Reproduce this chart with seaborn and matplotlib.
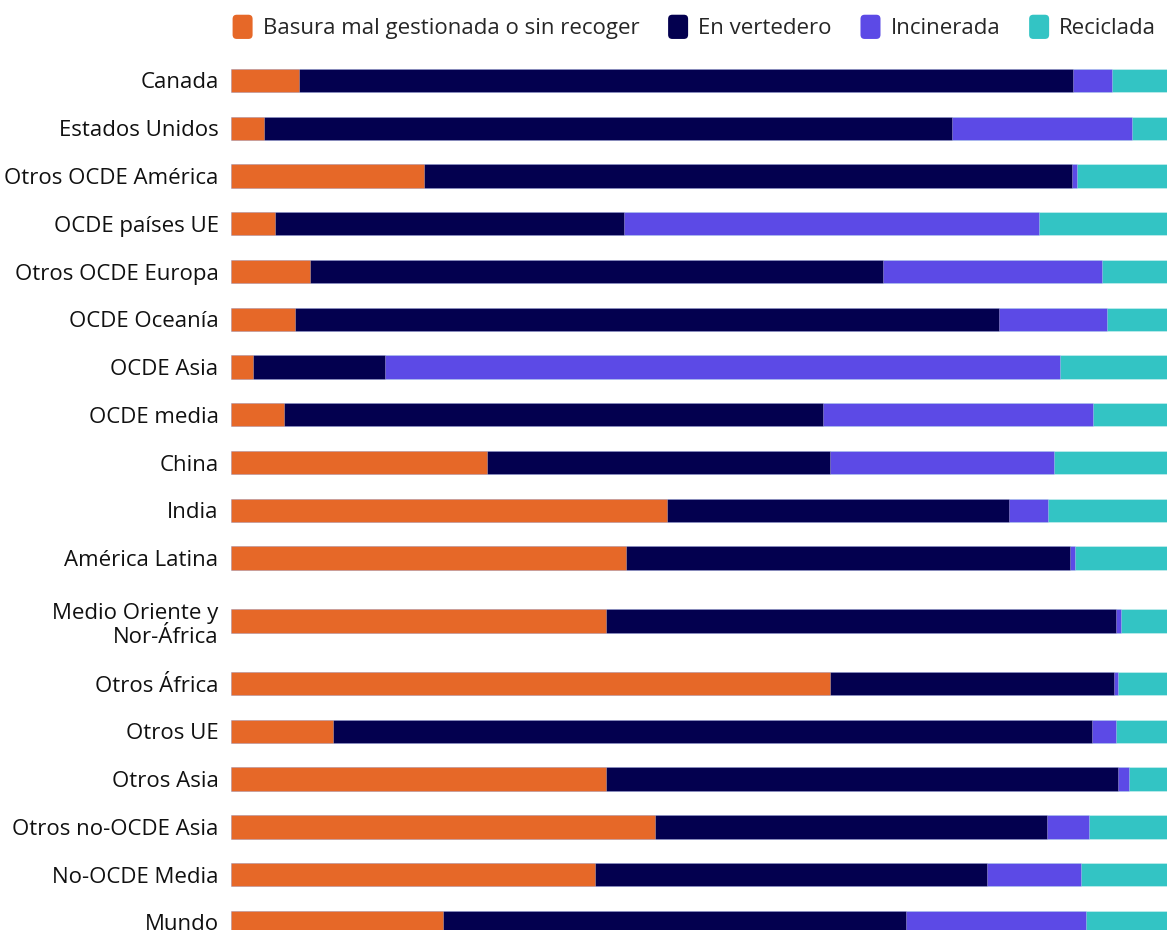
import matplotlib
matplotlib.use("Agg")
import numpy as np
import pandas as pd
import matplotlib.pyplot as plt
import seaborn as sns
from matplotlib.patches import Patch, FancyBboxPatch
from matplotlib.legend_handler import HandlerPatch

regiones = ["Canada", "Estados Unidos", "Otros OCDE América", "OCDE países UE",
            "Otros OCDE Europa", "OCDE Oceanía", "OCDE Asia", "OCDE media", "China",
            "India", "América Latina", "Medio Oriente y\nNor-África", "Otros África",
            "Otros UE", "Otros Asia", "Otros no-OCDE Asia", "No-OCDE Media", "Mundo"]

mal_gestionada = [7.3, 3.5, 20.6, 4.7, 8.4, 6.8, 2.3, 5.7, 27.3, 46.6, 42.2, 40.1, 64.0,
                  10.9, 40.1, 45.3, 38.8, 22.7]
vertedero = [82.7, 73.5, 69.2, 37.3, 61.3, 75.3, 14.2, 57.6, 36.6, 36.5, 47.4, 54.5, 30.3,
             81.1, 54.7, 41.9, 41.9, 49.5]
incinerada = [4.2, 19.2, 0.5, 44.3, 23.4, 11.5, 72.1, 28.8, 23.9, 4.2, 0.6, 0.5, 0.5,
              2.6, 1.1, 4.5, 10.0, 19.2]
reciclada = [5.9, 3.7, 9.6, 13.7, 6.9, 6.4, 11.4, 7.9, 12.1, 12.7, 9.8, 4.9, 5.2,
             5.4, 4.1, 8.3, 9.2, 8.7]

series = ["Basura mal gestionada o sin recoger", "En vertedero", "Incinerada", "Reciclada"]
colores = ["#E66828", "#03004F", "#5C4AE6", "#33C4C4"]

df = pd.DataFrame({
    series[0]: mal_gestionada,
    series[1]: vertedero,
    series[2]: incinerada,
    series[3]: reciclada,
}, index=regiones)
df = df.div(df.sum(axis=1), axis=0) * 100
acum = df.cumsum(axis=1)

# filas; la etiqueta de dos líneas deja más aire arriba y abajo
idx = np.arange(len(regiones))
pos = idx + np.where(idx == 11, 0.32, np.where(idx > 11, 0.63, 0.0))

sns.set_theme(style="white")
plt.rcParams['font.family'] = ['Open Sans', 'DejaVu Sans']


class RoundHandle(HandlerPatch):
    def create_artists(self, legend, orig_handle, xdescent, ydescent, width, height,
                       fontsize, trans):
        p = FancyBboxPatch((-xdescent, -ydescent), width, height,
                           boxstyle="round,pad=0,rounding_size=3",
                           facecolor=orig_handle.get_facecolor(), edgecolor="none",
                           transform=trans)
        return [p]


fig = plt.figure(figsize=(11.67, 9.3), dpi=100)
ax = fig.add_axes([231 / 1167, 0, 936 / 1167, 874 / 930])

for col, color in reversed(list(zip(series, colores))):
    sns.barplot(x=acum[col].values, y=pos, orient="y", native_scale=True,
                color=color, saturation=1, width=0.49, edgecolor=(1, 1, 1, 0.35),
                linewidth=0.6, ax=ax)

ax.set_xlim(0, 100)
ax.set_ylim(17.79, -0.513)
ax.set_yticks(pos, labels=regiones)
ax.set_xticks([])
ax.set_xlabel("")
ax.set_ylabel("")
ax.tick_params(axis="y", length=0, pad=9, labelsize=16, labelcolor="#111111")
for lbl in ax.get_yticklabels():
    lbl.set_linespacing(1.2)
sns.despine(ax=ax, left=True, bottom=True)

handles = [Patch(facecolor=c) for c in colores]
fig.legend(handles, series, loc="center", bbox_to_anchor=(0.595, 1 - 27 / 930), ncol=4,
           frameon=False, fontsize=16, handlelength=0.9, handleheight=1.3,
           handletextpad=0.45, columnspacing=1.3,
           handler_map={Patch: RoundHandle()})

fig.savefig("out.png", dpi=100)
